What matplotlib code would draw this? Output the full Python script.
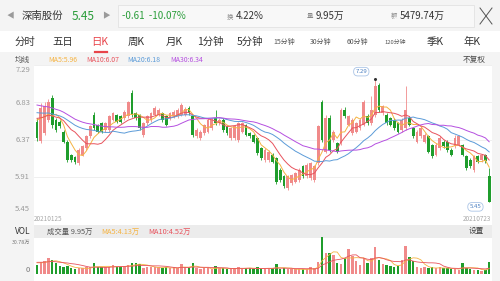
import numpy as np
import matplotlib
matplotlib.use("Agg")
import matplotlib.pyplot as plt
from matplotlib.patches import Rectangle
from matplotlib.lines import Line2D

plt.rcParams['font.family'] = ['Noto Sans CJK SC', 'DejaVu Sans']

# ---------------- data ----------------
stock_name = "深南股份"
last_price = "5.45"
change_text = "-0.61  -10.07%"
turnover_text = "4.22%"
volume_text = "9.95万"
amount_text = "5479.74万"
tabs = ["分时", "五日", "日K", "周K", "月K", "1分钟", "5分钟",
        "15分钟", "30分钟", "60分钟", "120分钟", "季K", "年K"]
ma_labels = ["MA5:5.96", "MA10:6.07", "MA20:6.18", "MA30:6.34"]
price_tick_labels = ["7.29", "6.83", "6.37", "5.91", "5.45"]
date_labels = ["20210125", "20210723"]
vol_header = "成交量 9.95万"
vol_ma_labels = ["MA5:4.13万", "MA10:4.52万"]
vol_tick_labels = ["30.78万", "0"]

opens = [6.64, 6.36, 6.48, 6.68, 7.00, 6.68, 6.65, 6.50, 6.35, 6.15,
         6.12, 6.03, 6.15, 6.25, 6.43, 6.75, 6.60, 6.63, 6.53, 6.53,
         6.68, 6.75, 6.73, 6.70, 6.73, 7.08, 6.78, 6.75, 6.45, 6.63,
         6.68, 6.75, 6.75, 6.78, 6.73, 6.70, 6.73, 6.73, 6.75, 6.75,
         6.85, 6.73, 6.43, 6.40, 6.48, 6.50, 6.55, 6.70, 6.63, 6.68,
         6.58, 6.40, 6.40, 6.38, 6.50, 6.60, 6.48, 6.45, 6.40, 6.25,
         6.08, 6.08, 6.15, 6.10, 5.93, 5.83, 5.65, 5.73, 5.75, 5.78,
         5.98, 5.83, 5.80, 5.78, 6.03, 6.95, 6.20, 6.70, 6.38, 6.33,
         6.33, 6.83, 6.60, 6.48, 6.50, 6.55, 6.60, 6.73, 6.63, 6.75,
         7.20, 6.78, 6.75, 6.70, 6.68, 6.63, 6.53, 6.55, 6.70, 6.55,
         6.35, 6.43, 6.35, 6.43, 6.30, 6.15, 6.25, 6.35, 6.35, 6.23,
         6.28, 6.30, 6.30, 6.13, 6.08, 5.93, 6.13, 6.08, 6.15, 5.83]
highs = [6.70, 6.93, 6.95, 6.99, 7.05, 6.70, 6.68, 6.52, 6.37, 6.17,
         6.14, 6.25, 6.30, 6.45, 6.60, 6.80, 6.62, 6.64, 6.64, 6.75,
         6.80, 6.77, 6.75, 6.82, 6.96, 7.13, 6.80, 6.77, 6.65, 6.75,
         6.80, 6.88, 6.86, 6.80, 6.75, 6.80, 6.82, 6.86, 6.93, 6.87,
         6.88, 6.75, 6.55, 6.53, 6.62, 6.70, 6.70, 6.83, 6.70, 6.70,
         6.60, 6.57, 6.60, 6.65, 6.65, 6.62, 6.50, 6.47, 6.42, 6.27,
         6.25, 6.23, 6.18, 6.12, 5.95, 5.85, 5.85, 5.87, 5.90, 5.95,
         6.00, 6.03, 6.05, 6.00, 6.60, 6.98, 6.75, 6.75, 6.53, 6.35,
         6.85, 6.87, 6.75, 6.70, 6.65, 6.70, 6.98, 6.76, 7.03, 7.29,
         7.23, 6.90, 6.78, 6.72, 6.70, 6.65, 6.70, 7.18, 6.73, 6.57,
         6.53, 6.58, 6.48, 6.45, 6.32, 6.33, 6.43, 6.38, 6.37, 6.25,
         6.45, 6.45, 6.32, 6.15, 6.10, 6.15, 6.15, 6.17, 6.17, 5.95]
lows = [6.36, 6.33, 6.45, 6.65, 6.55, 6.50, 6.55, 6.33, 6.05, 6.05,
        6.02, 6.00, 6.13, 6.23, 6.40, 6.53, 6.48, 6.48, 6.50, 6.50,
        6.66, 6.63, 6.63, 6.68, 6.70, 6.72, 6.68, 6.53, 6.42, 6.60,
        6.65, 6.73, 6.73, 6.65, 6.58, 6.68, 6.70, 6.70, 6.73, 6.73,
        6.75, 6.42, 6.40, 6.38, 6.45, 6.48, 6.53, 6.60, 6.60, 6.50,
        6.45, 6.38, 6.38, 6.35, 6.48, 6.43, 6.40, 6.33, 6.15, 6.08,
        6.05, 6.05, 6.03, 5.72, 5.75, 5.65, 5.63, 5.70, 5.73, 5.75,
        5.80, 5.80, 5.78, 5.75, 6.00, 6.35, 6.18, 6.20, 6.35, 6.18,
        6.30, 6.70, 6.58, 6.45, 6.48, 6.53, 6.58, 6.60, 6.60, 6.72,
        6.80, 6.75, 6.60, 6.58, 6.53, 6.48, 6.50, 6.52, 6.58, 6.40,
        6.33, 6.40, 6.33, 6.18, 6.10, 6.13, 6.23, 6.25, 6.20, 6.13,
        6.25, 6.28, 6.13, 5.93, 5.95, 5.90, 6.03, 6.05, 6.03, 5.45]
closes = [6.40, 6.85, 6.88, 6.95, 6.60, 6.53, 6.58, 6.35, 6.08, 6.08,
          6.04, 6.23, 6.28, 6.43, 6.58, 6.55, 6.50, 6.50, 6.63, 6.73,
          6.78, 6.65, 6.65, 6.80, 6.94, 6.75, 6.70, 6.55, 6.63, 6.73,
          6.78, 6.85, 6.83, 6.68, 6.60, 6.78, 6.80, 6.83, 6.90, 6.84,
          6.78, 6.45, 6.53, 6.50, 6.60, 6.68, 6.68, 6.63, 6.68, 6.53,
          6.48, 6.55, 6.58, 6.63, 6.63, 6.45, 6.43, 6.35, 6.18, 6.10,
          6.23, 6.20, 6.05, 5.75, 5.78, 5.68, 5.83, 5.85, 5.88, 5.93,
          5.83, 6.00, 6.03, 5.98, 6.58, 6.38, 6.70, 6.23, 6.50, 6.20,
          6.83, 6.73, 6.73, 6.68, 6.63, 6.68, 6.95, 6.63, 6.83, 7.18,
          6.83, 6.88, 6.63, 6.60, 6.55, 6.50, 6.68, 6.83, 6.60, 6.43,
          6.50, 6.55, 6.45, 6.20, 6.13, 6.30, 6.40, 6.28, 6.23, 6.15,
          6.40, 6.43, 6.15, 5.95, 5.98, 6.13, 6.05, 6.15, 6.06, 5.45]
volumes = [7.1, 10.0, 10.8, 12.8, 11.4, 8.6, 6.3, 5.7, 6.3, 4.3,
           3.4, 4.3, 4.3, 5.1, 5.1, 9.1, 5.1, 5.1, 5.7, 5.1,
           7.1, 5.7, 5.1, 6.3, 7.1, 9.1, 9.1, 8.0, 4.3, 5.1,
           5.1, 5.1, 5.1, 4.3, 5.1, 4.3, 5.1, 4.3, 8.0, 5.1,
           4.3, 9.1, 4.3, 3.4, 4.3, 4.3, 3.4, 6.3, 4.3, 4.3,
           3.4, 3.4, 4.3, 5.7, 4.3, 4.3, 4.3, 3.7, 5.1, 3.4,
           4.3, 4.3, 4.3, 8.0, 3.4, 4.3, 3.4, 3.4, 3.4, 3.4,
           3.4, 3.4, 5.1, 4.3, 10.0, 30.78, 17.1, 17.7, 15.7, 9.1,
           8.0, 12.8, 20.5, 14.8, 10.8, 7.1, 12.8, 8.6, 12.8, 22.2,
           11.4, 8.0, 7.1, 6.3, 5.1, 6.3, 11.4, 23.4, 14.2, 10.8,
           5.1, 4.3, 5.1, 4.3, 5.1, 4.3, 5.1, 4.3, 4.3, 3.4,
           3.6, 3.2, 8.9, 4.6, 4.2, 3.0, 2.6, 2.5, 2.6, 9.95]
# closes / volumes before 20210125 (estimated from where the MA lines start)
prev_closes = [7.20, 7.15, 7.18, 7.10, 7.12, 7.08, 7.15, 7.10, 7.12, 7.10,
               6.95, 6.92, 6.90, 6.88, 6.85, 6.86, 6.84, 6.83, 6.85, 6.82,
               6.78, 6.70, 6.72, 6.71, 6.715, 6.72, 6.75, 6.76, 6.745]
prev_volumes = [9.5, 10.2, 8.8, 9.0, 11.5, 10.4, 9.2, 8.7, 9.8]

# ---------------- figure ----------------
W, H = 500, 281
fig = plt.figure(figsize=(W / 100, H / 100), dpi=100)
fig.patch.set_facecolor('#f4f4f4')


def fx(x):
    return x / W


def fy(y):
    return 1 - y / H


def rect_px(x0, y0, x1, y1, **kw):
    fig.patches.append(Rectangle((fx(x0), fy(y1)), (x1 - x0) / W, (y1 - y0) / H,
                                 transform=fig.transFigure, zorder=-5, **kw))


def txt(x, y, s, size, color, ha='left', **kw):
    fig.text(fx(x), fy(y), s, fontsize=size, color=color, ha=ha, va='center', **kw)


GREEN = '#1f9d2c'
RED = '#f08a8a'
RED_TXT = '#e8444a'
MA_COLORS = ['#f5b342', '#e8535d', '#5b9bd8', '#b54fe0']

# backgrounds
rect_px(0, 31, 500, 52, facecolor='white', edgecolor='none')
rect_px(34, 65, 492, 225, facecolor='white', edgecolor='none')
rect_px(34, 225, 492, 238, facecolor='#ececec', edgecolor='none')
rect_px(34, 238, 492, 281, facecolor='white', edgecolor='none')
rect_px(118, 5, 474, 27, facecolor='#f8f8f8', edgecolor='#e2e2e2', linewidth=0.6)

# header row
txt(10, 16, '◀', 5.5, '#9a9a9a', ha='center')
txt(22, 16, stock_name, 7.5, '#333333')
txt(72, 16, last_price, 8.5, '#2a9d3a')
txt(106, 16, '▶', 5.5, '#9a9a9a', ha='center')
txt(122, 16, change_text, 7, '#2a9d3a')
txt(227, 16.5, '换', 4.6, '#888888')
txt(236, 16, turnover_text, 7, '#333333')
txt(307, 16.5, '量', 4.6, '#888888')
txt(316, 16, volume_text, 7, '#333333')
txt(391, 16.5, '额', 4.6, '#888888')
txt(400, 16, amount_text, 7, '#333333')
fig.add_artist(Line2D([fx(480), fx(492)], [fy(8), fy(24)], color='#555555', lw=0.7))
fig.add_artist(Line2D([fx(480), fx(492)], [fy(24), fy(8)], color='#555555', lw=0.7))

# tabs
tab_x = [15, 52, 91, 128, 166, 197, 237, 273, 310, 347, 384, 427, 463]
tab_size = [7.5, 7.5, 7.5, 7.5, 7.5, 7.5, 7.5, 5, 5, 5, 4.2, 7.5, 7.5]
for t, x, s in zip(tabs, tab_x, tab_size):
    col = RED_TXT if t == '日K' else ('#555555' if s < 6 else '#333333')
    txt(x, 42, t, s, col)
fig.add_artist(Line2D([fx(95), fx(107)], [fy(51.5), fy(51.5)], color=RED_TXT, lw=1.6))

# MA header
txt(15, 59.5, '均线', 5.5, '#555555')
for s, x, c in zip(ma_labels, [48, 86, 127, 170], MA_COLORS):
    txt(x, 59.5, s, 5, c)
txt(486, 59.5, '不复权', 5.5, '#444444', ha='right')

# ---------------- price panel ----------------
o = np.array(opens)
h = np.array(highs)
l = np.array(lows)
c = np.array(closes)
xi = np.arange(len(c))
up = c >= o
cols = np.where(up, RED, GREEN)

YLO, YHI = 5.266, 7.50
XLO, XHI = -0.79, 119.74
ax = fig.add_axes([fx(34), fy(214), (492 - 34) / W, (214 - 65) / H])
ax.set_zorder(2)
ax.set_xlim(XLO, XHI)
ax.set_ylim(YLO, YHI)
ax.axis('off')
for f in np.linspace(0, 1, 5):
    ax.axhline(YLO + f * (YHI - YLO), color='#ededed', lw=0.6, zorder=0)

ax.vlines(xi, l, h, colors=cols, lw=0.6, zorder=2)
ax.bar(xi, np.maximum(np.abs(c - o), 0.01), bottom=np.minimum(o, c), width=0.72,
       color=cols, linewidth=0, zorder=3)

c_all = np.array(prev_closes + closes)
for n, col in zip([5, 10, 20, 30], MA_COLORS):
    ma = np.convolve(c_all, np.ones(n) / n, mode='valid')[-len(c):]
    ax.plot(xi, ma, color=col, lw=0.7, zorder=4)

imax = int(np.argmax(h))
imin = int(np.argmin(l))
bub = dict(boxstyle='round,pad=0.3,rounding_size=0.7', fc='white', ec='#aac4e6', lw=0.6)
ax.annotate(f'{h[imax]:.2f}', xy=(imax, h[imax]), xytext=(-10, 5.3),
            textcoords='offset points', ha='center', va='center', fontsize=4.3,
            color='#4a7fc1', bbox=bub, zorder=6, annotation_clip=False)
ax.plot([imax], [h[imax]], marker='o', ms=1.2, color='#333333', zorder=5)
ax.annotate(f'{l[imin]:.2f}', xy=(imin, l[imin]), xytext=(-9.9, -3.7),
            textcoords='offset points', ha='center', va='center', fontsize=4.3,
            color='#4a7fc1', bbox=bub, zorder=6, annotation_clip=False)

for s, y in zip(price_tick_labels, [70, 103, 140, 177, 209]):
    txt(30, y, s, 5.5, '#9a9a9a', ha='right')

txt(34, 219, date_labels[0], 4.6, '#a8a8a8')
txt(491, 219, date_labels[1], 4.6, '#a8a8a8', ha='right')

# VOL row
txt(23, 231.5, 'VOL', 6, '#333333', ha='center')
txt(47, 231.5, vol_header, 5.3, '#555555')
txt(101, 231.5, vol_ma_labels[0], 5.3, MA_COLORS[0])
txt(148, 231.5, vol_ma_labels[1], 5.3, MA_COLORS[1])
txt(484, 231.5, '设置', 5.5, '#444444', ha='right')

# ---------------- volume panel ----------------
v = np.array(volumes)
axv = fig.add_axes([fx(34), fy(273.5), (492 - 34) / W, (273.5 - 237) / H])
axv.set_zorder(2)
axv.set_xlim(XLO, XHI)
axv.set_ylim(0, v.max())
axv.axis('off')
axv.bar(xi, v, width=0.62, color=cols, linewidth=0, zorder=2)
v_all = np.array(prev_volumes + volumes)
for n, col in zip([5, 10], MA_COLORS[:2]):
    vma = np.convolve(v_all, np.ones(n) / n, mode='valid')[-len(v):]
    axv.plot(xi, vma, color=col, lw=0.6, zorder=3)

txt(30, 242, vol_tick_labels[0], 3.8, '#777777', ha='right')
txt(30, 270, vol_tick_labels[1], 5.5, '#777777', ha='right')

fig.savefig('out.png', dpi=100, facecolor=fig.get_facecolor())
